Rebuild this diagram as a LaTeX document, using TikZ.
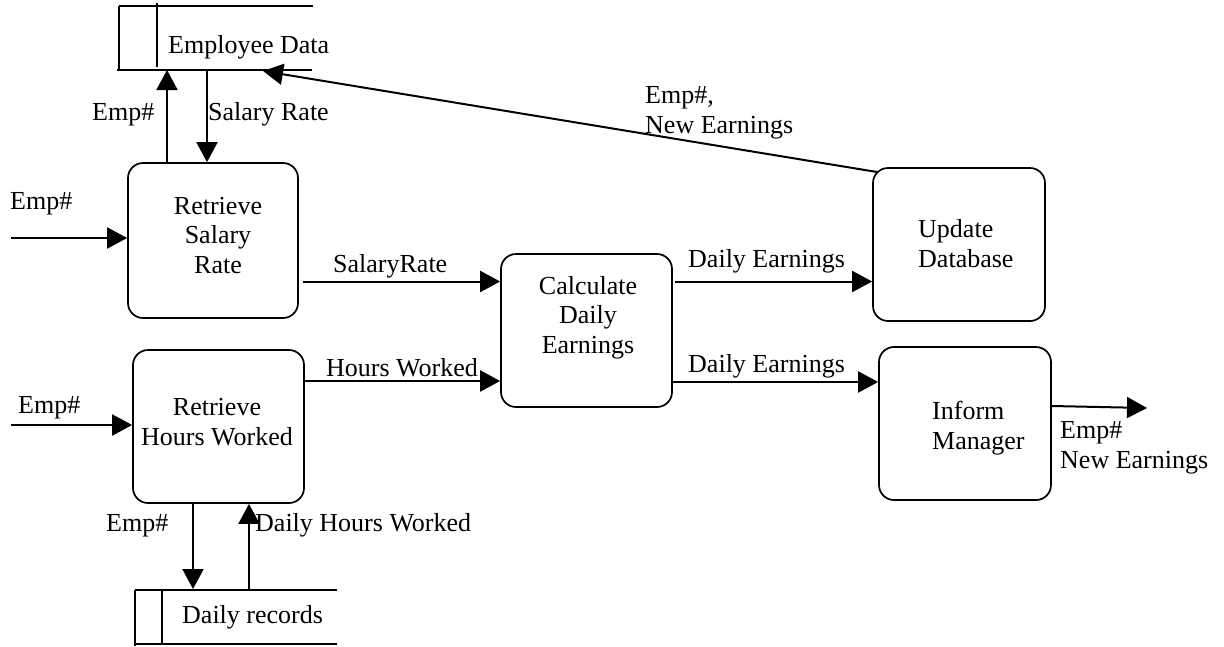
\documentclass[tikz,border=0pt]{standalone}
\usepackage{fontspec}
\setmainfont{Liberation Serif}
\usetikzlibrary{arrows.meta}
\begin{document}
\begin{tikzpicture}[x=1pt,y=-1pt,
  every node/.style={font=\fontsize{26}{29.5}\selectfont},
  proc/.style={draw,line width=1.7pt,rounded corners=15pt,minimum width=171pt,minimum height=153pt,inner sep=0pt},
  lbl/.style={inner sep=0pt,anchor=base west},
  clbl/.style={inner sep=0pt,anchor=base,align=center},
  llbl/.style={inner sep=0pt,anchor=base west,align=left},
  flow/.style={line width=2pt,-{Triangle[length=20pt,width=21pt]}},
  store/.style={line width=1.7pt}]
\useasboundingbox (0,0) rectangle (1224,646);
% process boxes
\node[proc,minimum width=170pt,minimum height=155pt] (rsr) at (213,240.5) {};
\node[proc] (rhw) at (218.5,426.5) {};
\node[proc] (cde) at (586.5,330.5) {};
\node[proc,minimum width=172pt] (upd) at (959,244.5) {};
\node[proc,minimum width=172pt] (inf) at (965,423.5) {};
% box texts (anchored at the baseline of the last line)
\node[clbl] (rsrT) at (218,273) {Retrieve\\Salary\\Rate};
\node[clbl] (rhwT) at (217,445) {Retrieve\\Hours Worked};
\node[clbl] (cdeT) at (588,353) {Calculate\\Daily\\Earnings};
\node[llbl] (updT) at (918,267) {Update\\Database};
\node[llbl] (infT) at (932,449) {Inform\\Manager};
% data stores
\draw[store] (119,6) -- (313,6);
\draw[store] (119,6) -- (119,70);
\draw[store] (157,3) -- (157,67);
\draw[store] (117,70) -- (312,70);
\node[lbl] (edT) at (168,53) {Employee Data};
\draw[store] (135,590) -- (337,590);
\draw[store] (135,590) -- (135,646);
\draw[store] (162,590) -- (162,644);
\draw[store] (135,644) -- (337,644);
\node[lbl] (drT) at (182,623) {Daily records};
% coordinates
\coordinate (in1) at (11,238);
\coordinate (in2) at (11,425);
\coordinate (edUp) at (167,70);
\coordinate (edDn) at (207,70);
\coordinate (edNew) at (263,71);
\coordinate (updCorner) at (877,172);
\coordinate (drDn) at (193,589);
\coordinate (drUp) at (249,589);
\coordinate (ySR) at (0,281.5);
\coordinate (yHW) at (0,381);
\coordinate (yDE2) at (0,382);
\coordinate (outS) at (0,406);
\coordinate (outE) at (1147,408);
% connectors
\draw[flow] (in1) -- (in1 -| rsr.west);
\draw[flow] (rsr.north -| edUp) -- (edUp);
\draw[flow] (edDn) -- (rsr.north -| edDn);
\draw[flow] (updCorner) -- (edNew);
\draw[flow] ([xshift=4pt]rsr.east |- ySR) -- (cde.west |- ySR);
\draw[flow] (in2) -- (in2 -| rhw.west);
\draw[flow] (rhw.east |- yHW) -- (cde.west |- yHW);
\draw[flow] (rhw.south -| drDn) -- (drDn);
\draw[flow] (drUp) -- (rhw.south -| drUp);
\draw[flow] ([xshift=2pt]cde.east |- ySR) -- (upd.west |- ySR);
\draw[flow] (cde.east |- yDE2) -- (inf.west |- yDE2);
\draw[flow] (inf.east |- outS) -- (outE);
% labels
\node[lbl] (l1) at (92,120) {Emp\#};
\node[lbl] (l2) at (208,120) {Salary Rate};
\node[lbl] (l3) at (10,209) {Emp\#};
\node[lbl] (l4) at (333,272) {SalaryRate};
\node[lbl] (l5) at (326,376) {Hours Worked};
\node[lbl] (l6) at (18,413) {Emp\#};
\node[lbl] (l7) at (106,531) {Emp\#};
\node[lbl] (l8) at (255,531) {Daily Hours Worked};
\node[lbl] (l9) at (688,267) {Daily Earnings};
\node[lbl] (l10) at (688,372) {Daily Earnings};
\node[llbl] (l11) at (645,133) {Emp\#,\\New Earnings};
\node[llbl] (l12) at (1060,468) {Emp\#\\New Earnings};
\end{tikzpicture}
\end{document}
